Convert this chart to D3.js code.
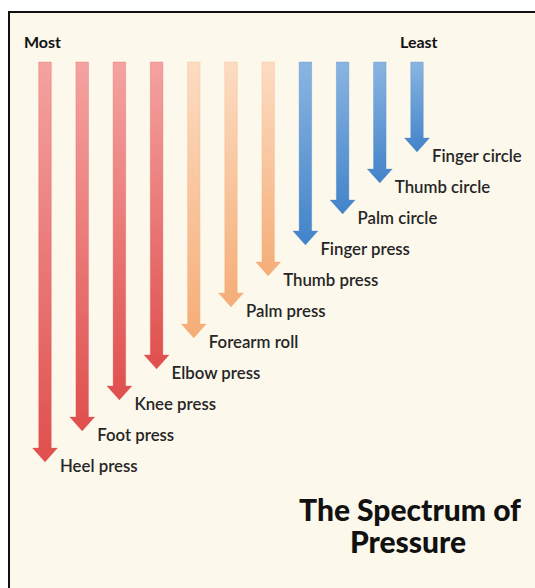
<!DOCTYPE html>
<html>
<head>
<meta charset="utf-8">
<script src="https://cdn.jsdelivr.net/npm/d3@7"></script>
<style>
  html, body { margin: 0; padding: 0; background: #fff; }
  svg { display: block; }
</style>
</head>
<body>
<script>
// techniques, ordered from most pressure (left) to least (right)
const techniques = ["Heel press", "Foot press", "Knee press", "Elbow press", "Forearm roll",
  "Palm press", "Thumb press", "Finger press", "Palm circle", "Thumb circle", "Finger circle"];
// pressure rank -> arrow length (11 = most)
const pressure = [11, 10, 9, 8, 7, 6, 5, 4, 3, 2, 1];
// colour group of each arrow
const groups = ["firm", "firm", "firm", "firm", "medium", "medium", "medium",
  "light", "light", "light", "light"];
const groupNames = ["firm", "medium", "light"];
const groupTop = ["#f4a3a1", "#fcdcc2", "#8ab5e1"];
const groupBottom = ["#df4f4d", "#f5ad77", "#4283c9"];

const width = 535, height = 588;

const svg = d3.select("body").append("svg")
    .attr("width", width)
    .attr("height", height);

// panel with frame
svg.append("rect")
    .attr("x", 9).attr("y", 12)
    .attr("width", width).attr("height", height)
    .attr("fill", "#fdf8ec");
svg.append("path")
    .attr("d", `M9,${height} V12 H${width}`)
    .attr("fill", "none")
    .attr("stroke", "#111")
    .attr("stroke-width", 2);

const x = d3.scalePoint()
    .domain(techniques)
    .range([45, 417]);

// tip position by pressure rank
const y = d3.scaleLinear()
    .domain([0, 11])
    .range([121, 462]);

const defs = svg.append("defs");
groupNames.forEach((g, i) => {
  const grad = defs.append("linearGradient")
      .attr("id", "grad-" + g)
      .attr("x1", 0).attr("y1", 0).attr("x2", 0).attr("y2", 1);
  grad.append("stop").attr("offset", "0%").attr("stop-color", groupTop[i]);
  grad.append("stop").attr("offset", "100%").attr("stop-color", groupBottom[i]);
});

const data = techniques.map((t, i) => ({name: t, value: pressure[i], group: groups[i]}));

const shaftTop = 62, shaftW = 6.3, headW = 12.5, headH = 14;

const arrow = svg.selectAll(".arrow")
    .data(data)
  .enter().append("g")
    .attr("class", "arrow");

arrow.append("path")
    .attr("d", function(d) {
      const cx = x(d.name), tip = y(d.value), hy = tip - headH;
      return `M${cx - shaftW},${shaftTop} H${cx + shaftW} V${hy} H${cx + headW} L${cx},${tip} L${cx - headW},${hy} H${cx - shaftW} Z`;
    })
    .attr("fill", d => `url(#grad-${d.group})`)
    .attr("stroke", d => groupBottom[groupNames.indexOf(d.group)])
    .attr("stroke-opacity", 0.35)
    .attr("stroke-width", 0.8);

arrow.append("text")
    .attr("x", d => x(d.name) + 15)
    .attr("y", d => y(d.value) + 10)
    .attr("font-family", "Lato, 'Open Sans', sans-serif")
    .attr("font-size", 16.8)
    .attr("font-weight", 600)
    .attr("fill", "#262626")
    .text(d => d.name);

svg.append("text")
    .attr("x", 24).attr("y", 48)
    .attr("font-family", "Lato, 'Open Sans', sans-serif")
    .attr("font-size", 16).attr("font-weight", "bold")
    .attr("fill", "#111")
    .text("Most");

svg.append("text")
    .attr("x", 400).attr("y", 48)
    .attr("font-family", "Lato, 'Open Sans', sans-serif")
    .attr("font-size", 16).attr("font-weight", "bold")
    .attr("fill", "#111")
    .text("Least");

const title = svg.append("text")
    .attr("text-anchor", "middle")
    .attr("font-family", "Lato, 'Open Sans', sans-serif")
    .attr("font-size", 30).attr("font-weight", 900)
    .attr("fill", "#111");
title.append("tspan").attr("x", 410).attr("y", 521).text("The Spectrum of");
title.append("tspan").attr("x", 408).attr("y", 553).text("Pressure");
</script>
</body>
</html>
